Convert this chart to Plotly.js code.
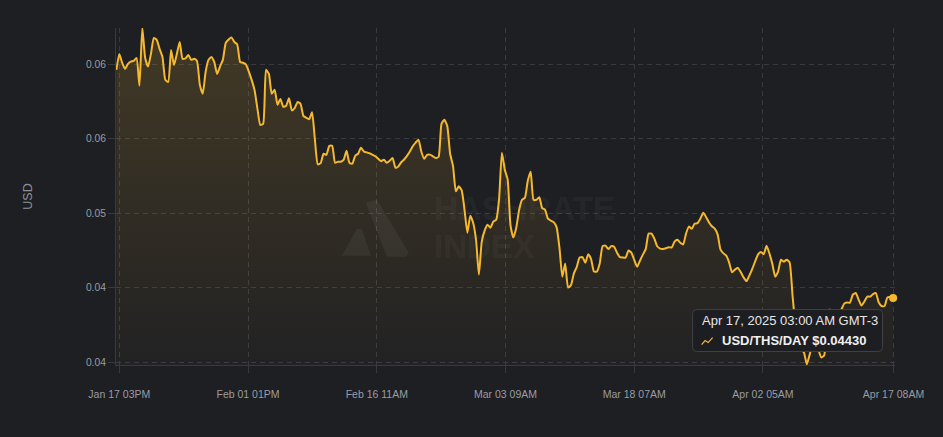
<!DOCTYPE html>
<html>
<head>
<meta charset="utf-8">
<script src="https://cdn.plot.ly/plotly-3.0.1.min.js"></script>
<style>
html,body{margin:0;padding:0;background:#1e1f23;}
#chart{width:943px;height:437px;}
</style>
</head>
<body>
<div id="chart"></div>
<script>
// ---------- data ----------
const seriesName = 'USD/THS/DAY';
const yAxisTitle = 'USD';
const startTime = [2025, 0, 17, 7];   // Jan 17 07:00, first sample
const stepHours = 8;                  // sampling interval of the series
const hashprice = [
  0.05962,0.06069,0.06009,0.05969,0.06002,0.06017,0.06022,0.06042,0.05855,0.06243,
  0.06042,0.05984,0.06069,0.06176,0.06163,0.06103,0.06049,0.05895,0.05881,0.06096,
  0.05995,0.06069,0.06149,0.06036,0.06039,0.06062,0.06029,0.06036,0.06022,0.05861,
  0.05801,0.05948,0.06029,0.06049,0.06015,0.05935,0.05984,0.06029,0.06143,0.06166,
  0.06180,0.06149,0.06133,0.06015,0.06010,0.05999,0.05952,0.05895,0.05828,0.05704,
  0.05593,0.05600,0.05962,0.05935,0.05801,0.05828,0.05727,0.05767,0.05714,0.05721,
  0.05771,0.05690,0.05707,0.05747,0.05734,0.05653,0.05640,0.05631,0.05677,0.05493,
  0.05328,0.05336,0.05399,0.05392,0.05452,0.05452,0.05338,0.05345,0.05345,0.05359,
  0.05419,0.05338,0.05332,0.05385,0.05399,0.05439,0.05414,0.05408,0.05402,0.05392,
  0.05382,0.05365,0.05349,0.05359,0.05338,0.05352,0.05370,0.05305,0.05314,0.05342,
  0.05360,0.05385,0.05414,0.05449,0.05474,0.05493,0.05412,0.05365,0.05392,0.05393,
  0.05382,0.05370,0.05379,0.05600,0.05627,0.05586,0.05399,0.05318,0.05147,0.05180,
  0.05154,0.05023,0.04869,0.04983,0.04936,0.04822,0.04588,0.04809,0.04883,0.04923,
  0.04903,0.04943,0.04956,0.05090,0.05406,0.05292,0.05225,0.04916,0.04836,0.04903,
  0.05023,0.05090,0.05104,0.05218,0.05278,0.05090,0.05090,0.05107,0.05034,0.05023,
  0.04963,0.04950,0.04940,0.04906,0.04769,0.04574,0.04662,0.04501,0.04517,0.04595,
  0.04638,0.04702,0.04705,0.04668,0.04725,0.04692,0.04608,0.04608,0.04662,0.04779,
  0.04782,0.04759,0.04779,0.04775,0.04735,0.04705,0.04702,0.04702,0.04749,0.04735,
  0.04686,0.04641,0.04682,0.04722,0.04759,0.04863,0.04863,0.04829,0.04778,0.04762,
  0.04760,0.04765,0.04772,0.04769,0.04809,0.04822,0.04802,0.04789,0.04863,0.04910,
  0.04896,0.04930,0.04933,0.04963,0.05003,0.04973,0.04938,0.04912,0.04896,0.04856,
  0.04755,0.04730,0.04715,0.04668,0.04603,0.04621,0.04633,0.04605,0.04570,0.04544,
  0.04581,0.04625,0.04675,0.04722,0.04739,0.04725,0.04782,0.04729,0.04660,0.04574,
  0.04608,0.04688,0.04675,0.04688,0.04670,0.04454,0.04253,0.04152,0.04085,0.04065,
  0.03985,0.04052,0.04119,0.04152,0.04085,0.04032,0.04045,0.04219,0.04353,0.04320,
  0.04340,0.04320,0.04353,0.04393,0.04400,0.04400,0.04454,0.04464,0.04420,0.04380,
  0.04407,0.04440,0.04440,0.04457,0.04464,0.04400,0.04377,0.04377,0.04434,0.04437,
  0.04430
];
const xTickVals = ['2025-01-17 15:00','2025-02-01 13:00','2025-02-16 11:00','2025-03-03 09:00','2025-03-18 07:00','2025-04-02 05:00','2025-04-17 08:00'];
const xTickText = ['Jan 17 03PM','Feb 01 01PM','Feb 16 11AM','Mar 03 09AM','Mar 18 07AM','Apr 02 05AM','Apr 17 08AM'];
const yTickVals = [0.04, 0.045, 0.05, 0.055, 0.06];
const yTickText = ['0.04','0.04','0.05','0.06','0.06'];
const tooltipTitle = 'Apr 17, 2025 03:00 AM GMT-3';
const tooltipValue = '$0.04430';
const watermark = ['HASHRATE', 'INDEX'];

// ---------- build ----------
const t0 = Date.UTC(startTime[0], startTime[1], startTime[2], startTime[3]);
const times = hashprice.map((_, i) => new Date(t0 + i * stepHours * 3600000).toISOString().slice(0, 16).replace('T', ' '));

const W = 943, H = 437;
const PL = 116, PR = 895.5, PT = 28, PB = 365.5;
const px = x => (x - PL) / (PR - PL);
const py = y => (PB - y) / (PB - PT);

const BG = '#1e1f23';
const GRID = '#393a3f';
const TICKCOL = '#9a9ca2';
const GOLD = '#f5b82e';
const yMin = 0.03981, yMax = 0.06243;

const traces = [
  {
    type: 'scatter', mode: 'lines', name: seriesName,
    x: times, y: hashprice,
    line: {color: GOLD, width: 2, shape: 'spline', smoothing: 0.5},
    fill: 'tozeroy',
    fillgradient: {type: 'vertical', start: yMin, stop: yMax,
      colorscale: [[0, 'rgba(245,184,46,0.02)'], [1, 'rgba(245,184,46,0.17)']]},
    hoverinfo: 'skip', showlegend: false
  },
  {
    type: 'scatter', mode: 'markers',
    x: [times[times.length - 1]], y: [hashprice[hashprice.length - 1]],
    marker: {color: GOLD, size: 8},
    cliponaxis: false, hoverinfo: 'skip', showlegend: false
  }
];

function roundRect(x0, y0, x1, y1, r) {
  const X = v => px(v).toFixed(5), Y = v => py(v).toFixed(5);
  return `M${X(x0 + r)},${Y(y0)} L${X(x1 - r)},${Y(y0)} Q${X(x1)},${Y(y0)} ${X(x1)},${Y(y0 + r)} ` +
         `L${X(x1)},${Y(y1 - r)} Q${X(x1)},${Y(y1)} ${X(x1 - r)},${Y(y1)} ` +
         `L${X(x0 + r)},${Y(y1)} Q${X(x0)},${Y(y1)} ${X(x0)},${Y(y1 - r)} ` +
         `L${X(x0)},${Y(y0 + r)} Q${X(x0)},${Y(y0)} ${X(x0 + r)},${Y(y0)} Z`;
}
function poly(pts) {
  return 'M' + pts.map(p => px(p[0]).toFixed(5) + ',' + py(p[1]).toFixed(5)).join(' L') + ' Z';
}
function polyline(pts) {
  return 'M' + pts.map(p => px(p[0]).toFixed(5) + ',' + py(p[1]).toFixed(5)).join(' L');
}

const shapes = [
  {type: 'path', xref: 'paper', yref: 'paper', layer: 'above',
   path: poly([[342, 256], [357, 229], [362, 229], [371, 256]]),
   fillcolor: 'rgba(255,255,255,0.05)', line: {width: 0}},
  {type: 'path', xref: 'paper', yref: 'paper', layer: 'above',
   path: poly([[366, 203], [377, 200], [409, 253], [406, 257], [387, 257]]),
   fillcolor: 'rgba(255,255,255,0.05)', line: {width: 0}},
  {type: 'path', xref: 'paper', yref: 'paper', layer: 'above',
   path: roundRect(693, 310, 883, 352, 4),
   fillcolor: '#1d1e22', line: {color: '#404146', width: 1}},
  {type: 'path', xref: 'paper', yref: 'paper', layer: 'above',
   path: polyline([[702, 345], [705.5, 341], [708.5, 343], [713, 338]]),
   line: {color: GOLD, width: 1.2}}
];

const annotations = [
  {xref: 'paper', yref: 'paper', x: px(432), y: py(209), xanchor: 'left', yanchor: 'middle',
   text: '<b>' + watermark[0] + '</b>', showarrow: false,
   font: {family: 'Liberation Sans, Arial, sans-serif', size: 33, color: 'rgba(255,255,255,0.055)'}},
  {xref: 'paper', yref: 'paper', x: px(432), y: py(247), xanchor: 'left', yanchor: 'middle',
   text: '<b>' + watermark[1] + '</b>', showarrow: false,
   font: {family: 'Liberation Sans, Arial, sans-serif', size: 33, color: 'rgba(255,255,255,0.055)'}},
  {xref: 'paper', yref: 'paper', x: px(700), y: py(321), xanchor: 'left', yanchor: 'middle',
   text: tooltipTitle, showarrow: false,
   font: {family: 'Liberation Sans, Arial, sans-serif', size: 13, color: '#e6e6e8'}},
  {xref: 'paper', yref: 'paper', x: px(720), y: py(341), xanchor: 'left', yanchor: 'middle',
   text: '<b>' + seriesName + ' ' + tooltipValue + '</b>', showarrow: false,
   font: {family: 'Liberation Sans, Arial, sans-serif', size: 13, color: '#f0f0f2'}}
];

const layout = {
  width: W, height: H,
  margin: {l: PL, r: W - PR, t: PT, b: H - PB, pad: 0},
  paper_bgcolor: BG, plot_bgcolor: BG,
  showlegend: false, hovermode: false,
  font: {family: 'Liberation Sans, Arial, sans-serif', color: TICKCOL},
  xaxis: {
    type: 'date', range: ['2025-01-17 05:50', '2025-04-17 12:10'],
    tickmode: 'array', tickvals: xTickVals, ticktext: xTickText,
    showgrid: true, gridcolor: GRID, griddash: '5px,4px', gridwidth: 1,
    showline: true, linecolor: GRID, linewidth: 1,
    ticks: 'outside', ticklen: 7, tickcolor: GRID, tickwidth: 1,
    ticklabelstandoff: 12,
    tickfont: {size: 10.5, color: TICKCOL},
    zeroline: false, fixedrange: true
  },
  yaxis: {
    range: [yMin, yMax],
    tickmode: 'array', tickvals: yTickVals, ticktext: yTickText,
    showgrid: true, gridcolor: GRID, griddash: '5px,4px', gridwidth: 1,
    showline: true, linecolor: GRID, linewidth: 1,
    ticks: 'outside', ticklen: 7, tickcolor: GRID, tickwidth: 1,
    tickfont: {size: 10.3, color: TICKCOL},
    title: {text: yAxisTitle, standoff: 50, font: {size: 12.5, color: '#8e9096'}},
    zeroline: false, fixedrange: true
  },
  shapes: shapes,
  annotations: annotations
};

Plotly.newPlot('chart', traces, layout, {staticPlot: true, displayModeBar: false});
</script>
</body>
</html>
